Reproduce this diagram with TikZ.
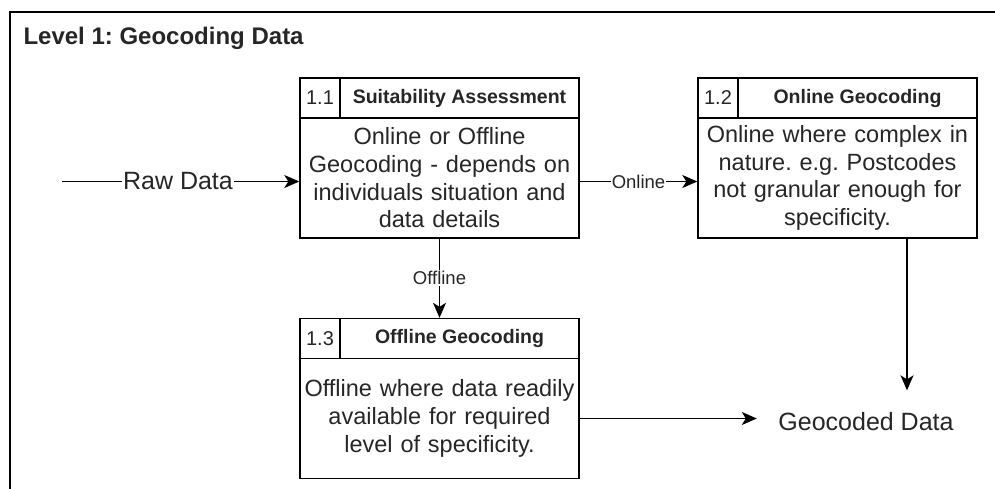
\documentclass[tikz,border=0pt]{standalone}
\usepackage{fontspec}
\setmainfont{Liberation Sans}
\usetikzlibrary{arrows.meta}
\frenchspacing

\begin{document}
\begin{tikzpicture}[x=1pt,y=-1pt,
	cell/.style={draw,line width=1.4pt,inner sep=0pt,text=black!85},
	numcell/.style={cell,minimum width=40pt,minimum height=40pt,font=\fontsize{20}{24}\selectfont},
	titlecell/.style={cell,minimum width=239pt,minimum height=40pt,font=\bfseries\fontsize{19.5}{23}\selectfont},
	bodycell/.style={cell,minimum width=279pt,minimum height=120pt,text width=275pt,align=center,font=\fontsize{23.5}{27.7}\selectfont},
	flow/.style={line width=1.3pt,-{Stealth[length=15pt,width=13pt,inset=4pt]}},
	edgelabel/.style={fill=white,inner sep=1pt,text=black!85,font=\fontsize{18.5}{22}\selectfont},
	bigtext/.style={text=black!85,font=\fontsize{25}{30}\selectfont}]
	\clip (0,0) rectangle (995,488);
	\draw[line width=1.3pt] (10,500) -- (10,12) -- (1005,12);
	\node[anchor=base west,text=black!85,font=\bfseries\fontsize{24}{28}\selectfont] (title) at (20,44) {Level 1: Geocoding Data};

	\node[numcell] (n11) at (320,98) {1.1};
	\node[titlecell] (t11) at (459.5,98) {Suitability Assessment};
	\node[bodycell] (b11) at (439.5,178) {Online or Offline\\ Geocoding - depends on\\ individuals situation and\\ data details};

	\node[numcell] (n12) at (718,98) {1.2};
	\node[titlecell] (t12) at (857.5,98) {Online Geocoding};
	\node[bodycell] (b12) at (837.5,178) {Online where complex in\\ nature. e.g. Postcodes\\ not granular enough for\\ specificity.};

	\node[numcell] (n13) at (320,338.5) {1.3};
	\node[titlecell] (t13) at (459.5,338.5) {Offline Geocoding};
	\node[bodycell] (b13) at (439.5,418.5) {Offline where data readily\\ available for required\\ level of specificity.};

	\coordinate (rawin) at (62,181.5);
	\node[bigtext,fill=white,inner sep=1pt] (raw) at (178,181.5) {Raw Data};
	\node[bigtext,minimum width=218pt,minimum height=62pt,inner sep=0pt] (geo) at (866,421.5) {Geocoded Data};

	\draw[line width=1.3pt] (rawin) -- (raw);
	\draw[flow] (raw) -- (raw -| b11.west);
	\draw[flow] ([yshift=-3.5pt]b11.east) -- node[edgelabel] {Online} ([yshift=-3.5pt]b12.west);
	\draw[flow] (b11.south) -- node[edgelabel] {Offline} (b11.south |- t13.north);
	\draw[flow] ([xshift=69.5pt]b12.south) -- ([xshift=69.5pt]b12.south |- geo.north);
	\draw[flow] (b13.east) -- (b13.east -| geo.west);
\end{tikzpicture}
\end{document}
